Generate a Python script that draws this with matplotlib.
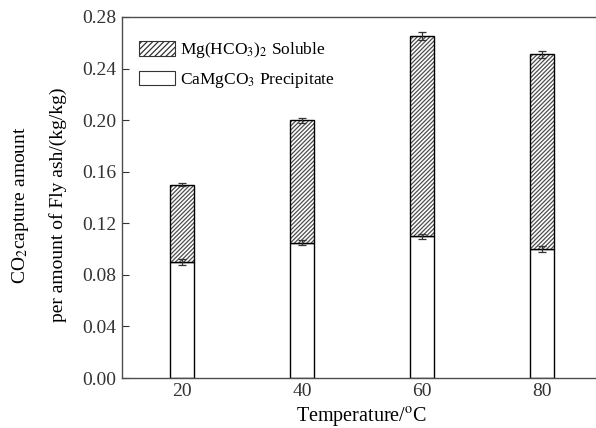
import matplotlib
matplotlib.use("Agg")
import matplotlib.pyplot as plt
from matplotlib.patches import Patch
import numpy as np

plt.rcParams['font.family'] = ['Liberation Serif', 'DejaVu Serif']
plt.rcParams['mathtext.fontset'] = 'stix'
plt.rcParams['hatch.linewidth'] = 0.9

# data
temps = [20, 40, 60, 80]
precipitate = [0.090, 0.105, 0.110, 0.100]
precipitate_err = [0.002, 0.002, 0.002, 0.002]
total = [0.150, 0.200, 0.265, 0.251]
total_err = [0.001, 0.002, 0.003, 0.003]
soluble = [t - p for t, p in zip(total, precipitate)]

fig = plt.figure(figsize=(5.96, 4.28), dpi=100)
ax = fig.add_axes([0.2047, 0.1168, 0.805, 0.8435])

width = 4
HATCH = '////////'
# hatch in grey, outline in black
ax.bar(temps, precipitate, width=width, color='white', edgecolor='black', linewidth=1.0, zorder=2)
ax.bar(temps, soluble, width=width, bottom=precipitate, color='white', edgecolor='0.3',
       hatch=HATCH, linewidth=0, zorder=2)
ax.bar(temps, soluble, width=width, bottom=precipitate, fill=False, edgecolor='black',
       linewidth=1.0, zorder=3)

ax.errorbar(temps, precipitate, yerr=precipitate_err, fmt='none', ecolor='0.2',
            elinewidth=0.9, capsize=3, capthick=0.9, zorder=4)
ax.errorbar(temps, total, yerr=total_err, fmt='none', ecolor='0.2',
            elinewidth=0.9, capsize=3, capthick=0.9, zorder=4)

ax.set_xlim(10, 90)
ax.set_ylim(0, 0.28)
ax.set_xticks(temps)
ax.set_yticks(np.arange(0, 0.281, 0.04))
ax.yaxis.set_major_formatter(matplotlib.ticker.FormatStrFormatter('%.2f'))
ax.tick_params(direction='in', length=5, width=0.8, labelsize=14, top=False, right=False,
               colors='0.2')
ax.tick_params(axis='y', pad=4)
for s in ['left', 'bottom', 'top']:
    ax.spines[s].set_linewidth(1.0)
    ax.spines[s].set_color('0.3')
ax.spines['right'].set_visible(False)

# legend built by hand with patches
h1 = Patch(facecolor='white', edgecolor='0.2', hatch='//////', linewidth=0.8)
h2 = Patch(facecolor='white', edgecolor='0.2', linewidth=0.8)
ax.legend([h1, h2], ['Mg(HCO$_3$)$_2$ Soluble', 'CaMgCO$_3$ Precipitate'],
          loc='upper left', bbox_to_anchor=(0.035, 0.935), frameon=False, fontsize=12.5,
          borderaxespad=0, borderpad=0,
          handlelength=2.1, handleheight=0.9, handletextpad=0.3, labelspacing=0.6)

ax.set_xlabel('Temperature/$^{\\rm o}$C', fontsize=14.5, labelpad=4)
fig.text(0.034, 0.521, 'CO$_2$capture amount', rotation=90, ha='center', va='center', fontsize=14)
fig.text(0.097, 0.521, 'per amount of Fly ash/(kg/kg)', rotation=90, ha='center', va='center', fontsize=14)

fig.savefig('out.png', dpi=100)
